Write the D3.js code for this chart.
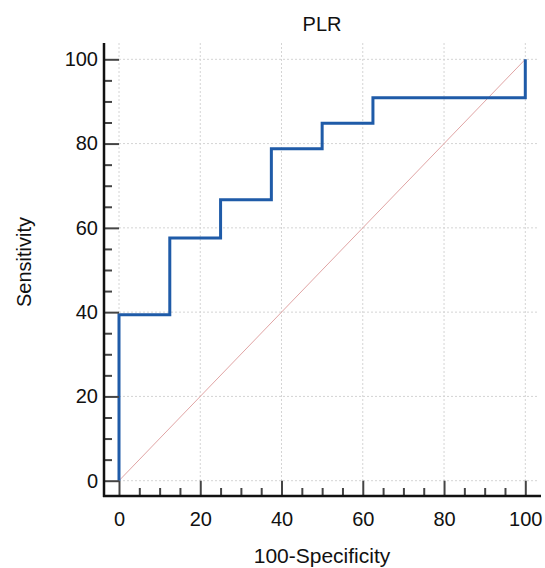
<!DOCTYPE html>
<html>
<head>
<meta charset="utf-8">
<script src="https://cdn.jsdelivr.net/npm/d3@7"></script>
<style>
  html, body { margin: 0; padding: 0; background: #fff; }
  text { font-family: "Liberation Sans", Arial, Helvetica, sans-serif; fill: #111; }
</style>
</head>
<body>
<svg id="chart" width="545" height="568"></svg>
<script>
const title = "PLR";
const xLabel = "100-Specificity";
const yLabel = "Sensitivity";
const fpr = [0, 0, 12.5, 25, 37.5, 50, 62.5, 100];
const tpr = [0, 39.4, 57.6, 66.7, 78.8, 84.8, 90.9, 100];
const majorTicks = [0, 20, 40, 60, 80, 100];
const minorTicks = d3.range(0, 101, 5).filter(v => v % 20 !== 0);

const svg = d3.select("#chart");
const x = d3.scaleLinear().domain([0, 100]).range([119, 525.3]);
const y = d3.scaleLinear().domain([0, 100]).range([480.7, 59.3]);
const axisX = 104, axisY = 496, topY = 43, rightX = 541;

// grid
const grid = svg.append("g").attr("stroke", "#d4d4d4").attr("stroke-width", 1).attr("stroke-dasharray", "2,2");
grid.selectAll(".vg").data(majorTicks).join("line")
  .attr("x1", d => x(d)).attr("x2", d => x(d)).attr("y1", topY).attr("y2", y(0));
grid.selectAll(".hg").data(majorTicks).join("line")
  .attr("x1", x(0)).attr("x2", rightX - 2).attr("y1", d => y(d)).attr("y2", d => y(d));

// diagonal
svg.append("line")
  .attr("x1", x(0)).attr("y1", y(0)).attr("x2", x(100)).attr("y2", y(100))
  .attr("stroke", "#e0a4a4").attr("stroke-width", 1);

// ROC curve
const pts = fpr.map((v, i) => [v, tpr[i]]);
svg.append("path")
  .datum(pts)
  .attr("fill", "none")
  .attr("stroke", "#1f5ba8")
  .attr("stroke-width", 3)
  .attr("d", d3.line().x(d => x(d[0])).y(d => y(d[1])).curve(d3.curveStepAfter));

// axes
const gx = svg.append("g").attr("transform", `translate(0,${axisY})`);
gx.call(d3.axisBottom(x).tickValues(majorTicks).tickSizeInner(-(axisY - y(0))).tickSizeOuter(0).tickPadding(16));
const gxm = svg.append("g").attr("transform", `translate(0,${axisY})`);
gxm.call(d3.axisBottom(x).tickValues(minorTicks).tickSizeInner(-8).tickSizeOuter(0).tickFormat(""));

const gy = svg.append("g").attr("transform", `translate(${axisX},0)`);
gy.call(d3.axisLeft(y).tickValues(majorTicks).tickSizeInner(-(x(0) - axisX)).tickSizeOuter(0).tickPadding(6));
const gym = svg.append("g").attr("transform", `translate(${axisX},0)`);
gym.call(d3.axisLeft(y).tickValues(minorTicks).tickSizeInner(-8).tickSizeOuter(0).tickFormat(""));

[gx, gxm, gy, gym].forEach(g => {
  g.select(".domain").remove();
  g.selectAll(".tick line").attr("stroke", "#444").attr("stroke-width", 2);
  g.selectAll(".tick text").attr("font-size", 20).attr("fill", "#111")
    .attr("font-family", "'Liberation Sans', Arial, sans-serif");
});

// axis lines
svg.append("line").attr("x1", axisX).attr("x2", axisX).attr("y1", topY).attr("y2", axisY + 1)
  .attr("stroke", "#111").attr("stroke-width", 2.5);
svg.append("line").attr("x1", axisX - 1).attr("x2", rightX).attr("y1", axisY).attr("y2", axisY)
  .attr("stroke", "#111").attr("stroke-width", 2.5);

// titles
svg.append("text").attr("x", 322).attr("y", 31).attr("text-anchor", "middle")
  .attr("font-size", 20).text(title);
svg.append("text").attr("x", 322).attr("y", 563).attr("text-anchor", "middle")
  .attr("font-size", 21).text(xLabel);
svg.append("text").attr("transform", "translate(31,262) rotate(-90)").attr("text-anchor", "middle")
  .attr("font-size", 20).text(yLabel);
</script>
</body>
</html>
